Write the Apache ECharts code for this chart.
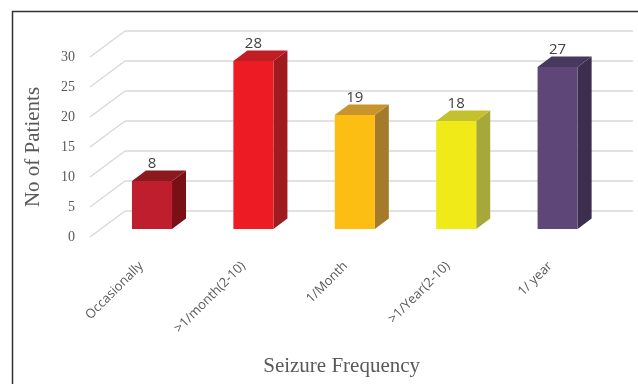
<!DOCTYPE html>
<html>
<head>
<meta charset="utf-8">
<script src="https://cdn.jsdelivr.net/npm/echarts@6/dist/echarts.min.js"></script>
<style>html,body{margin:0;padding:0;background:#fff;}#c{width:638px;height:384px;}</style>
</head>
<body>
<div id="c"></div>
<script>
var categories = ['Occasionally', '>1/month(2-10)', '1/Month', '>1/Year(2-10)', '1/ year'];
var patients = [8, 28, 19, 18, 27];
var yTicks = [0, 5, 10, 15, 20, 25, 30];
var frontColors = ['#BE1E2D', '#ED1C24', '#FCBE12', '#F0EA19', '#5E4778'];
var sideColors = ['#7A1015', '#A01B20', '#A57A2A', '#A6A83A', '#3D2E4F'];
var topColors = ['#8B1A1E', '#BE1E24', '#C7952B', '#C4C12E', '#47385E'];

var chart = echarts.init(document.getElementById('c'));
var serif = '"Liberation Serif", "DejaVu Serif", serif';
var sans = '"Open Sans", "Liberation Sans", sans-serif';

chart.setOption({
  animation: false,
  graphic: [{
    type: 'polyline',
    shape: { points: [[12.5, 384], [12.5, 11.5], [638, 11.5]] },
    style: { stroke: '#333', lineWidth: 1.5, fill: null },
    z: 100
  }],
  grid: [
    { left: 125, top: 31, width: 508, height: 180 },
    { left: 90, top: 57, width: 100, height: 180 },
    { left: 101.3, top: 49, width: 507, height: 180 },
    { left: 90, top: 57, width: 511.25, height: 180 }
  ],
  xAxis: [
    { gridIndex: 0, type: 'value', min: 0, max: 1, show: false },
    { gridIndex: 1, type: 'value', min: 0, max: 1, show: false },
    { gridIndex: 2, type: 'category', data: categories, show: false },
    { gridIndex: 3, type: 'category', data: categories,
      axisLine: { show: false }, axisTick: { show: false },
      axisLabel: { rotate: 45, margin: 27, fontSize: 13, color: '#595959', fontFamily: sans, interval: 0 },
      name: 'Seizure Frequency', nameLocation: 'middle', nameGap: 119,
      nameTextStyle: { fontSize: 21, color: '#595959', fontFamily: serif, padding: [0, 8, 0, 0] }
    }
  ],
  yAxis: [
    { gridIndex: 0, type: 'value', min: 0, max: 30, interval: 5,
      axisLabel: { show: false }, axisLine: { show: false }, axisTick: { show: false },
      splitLine: { lineStyle: { color: '#D9D9D9', width: 1.5 } } },
    { gridIndex: 1, type: 'value', min: 0, max: 30, interval: 5,
      axisLine: { show: false }, axisTick: { show: false }, splitLine: { show: false },
      axisLabel: { margin: 15, fontSize: 14, color: '#595959', fontFamily: serif },
      name: 'No of Patients', nameLocation: 'middle', nameGap: 46, nameRotate: 90,
      nameTextStyle: { fontSize: 21, color: '#595959', fontFamily: serif } },
    { gridIndex: 2, type: 'value', min: 0, max: 30, show: false },
    { gridIndex: 3, type: 'value', min: 0, max: 30, show: false }
  ],
  series: [
    {
      type: 'custom', xAxisIndex: 0, yAxisIndex: 0, clip: false,
      data: yTicks,
      renderItem: function (params, api) {
        var p = api.coord([0, api.value(0)]);
        return {
          type: 'line',
          shape: { x1: p[0], y1: p[1], x2: p[0] - 35, y2: p[1] + 26 },
          style: { stroke: '#D9D9D9', lineWidth: 1.5 }
        };
      }
    },
    {
      type: 'custom', xAxisIndex: 2, yAxisIndex: 2, clip: false,
      data: patients,
      renderItem: function (params, api) {
        var i = params.dataIndex;
        var v = api.value(1);
        var t = api.coord([i, v]);
        var b = api.coord([i, 0]);
        var w = api.size([1, 0])[0] * 0.395;
        var l = t[0] - w / 2, r = t[0] + w / 2, top = t[1], bot = b[1];
        var dx = 14, dy = -10.5;
        return {
          type: 'group',
          children: [
            { type: 'polygon', shape: { points: [[r, top], [r + dx, top + dy], [r + dx, bot + dy], [r, bot]] },
              style: { fill: sideColors[i] } },
            { type: 'polygon', shape: { points: [[l, top], [l + dx, top + dy], [r + dx, top + dy], [r, top]] },
              style: { fill: topColors[i] } },
            { type: 'rect', shape: { x: l, y: top, width: w, height: bot - top },
              style: { fill: frontColors[i] } },
            { type: 'text', x: t[0], y: top + dy - 7,
              style: { text: String(v), fill: '#404040', fontSize: 15, fontFamily: sans, align: 'center', verticalAlign: 'middle' } }
          ]
        };
      },
      encode: { x: 0, y: 1 }
    }
  ]
});
</script>
</body>
</html>
